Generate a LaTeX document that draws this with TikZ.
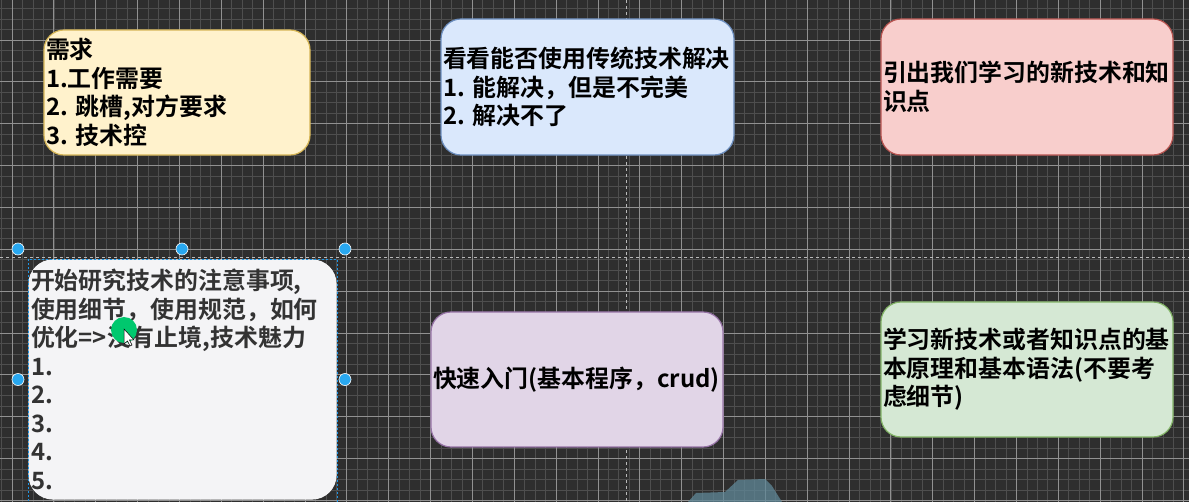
\documentclass[tikz,border=0pt]{standalone}
\usepackage{fontspec}
\setmainfont{Noto Sans CJK SC}[BoldFont={Noto Sans CJK SC Bold}]
\frenchspacing

\definecolor{canvas}{RGB}{46,46,46}
\definecolor{gridminor}{RGB}{78,78,78}
\definecolor{gridmajor}{RGB}{145,145,145}
\definecolor{breakline}{RGB}{185,185,185}
\definecolor{handleblue}{RGB}{41,168,240}
\definecolor{selblue}{RGB}{30,150,230}
\definecolor{clickgreen}{RGB}{0,200,110}
\definecolor{mountain}{RGB}{96,136,152}
\definecolor{yellowfill}{HTML}{FFF2CC}
\definecolor{yellowline}{HTML}{D6B656}
\definecolor{bluefill}{HTML}{DAE8FC}
\definecolor{blueline}{HTML}{6C8EBF}
\definecolor{redfill}{HTML}{F8CECC}
\definecolor{redline}{HTML}{B85450}
\definecolor{purplefill}{HTML}{E1D5E7}
\definecolor{purpleline}{HTML}{9673A6}
\definecolor{greenfill}{HTML}{D5E8D4}
\definecolor{greenline}{HTML}{82B366}
\definecolor{greyfill}{HTML}{F4F4F6}
\definecolor{greytext}{HTML}{333333}

\tikzset{
  card/.style={rectangle, rounded corners=20pt, line width=1.2pt, align=left,
    inner xsep=2pt, inner ysep=0pt,
    font=\bfseries\fontsize{23.9}{28.5}\selectfont},
  minorline/.style={draw=gridminor, line width=0.8pt},
  majorline/.style={draw=gridmajor, line width=0.9pt},
  pagebreak/.style={draw=breakline, line width=1pt, dash pattern=on 3pt off 3pt},
  handle/.style={circle, fill=handleblue, draw=white, line width=0.6pt,
    inner sep=0pt, minimum size=12pt},
}

\begin{document}
\begin{tikzpicture}[x=1pt, y=-1pt]
  \useasboundingbox (0,0) rectangle (1189,502);
  \fill[canvas] (0,0) rectangle (1189,502);
  \clip (0,0) rectangle (1189,502);

  % grid
  \foreach \k in {-1,...,113}
    \draw[minorline] ({12.05+10.4625*\k},0) -- ++(0,502);
  \foreach \k in {0,...,48}
    \draw[minorline] (0,{-1.8+10.4625*\k}) -- ++(1189,0);
  \foreach \k in {0,...,28}
    \draw[majorline] ({12.05+41.85*\k},0) -- ++(0,502);
  \foreach \k in {0,...,12}
    \draw[majorline] (0,{-1.8+41.85*\k}) -- ++(1189,0);
  \draw[pagebreak] (626,0) -- (626,502);
  \draw[pagebreak] (0,258) -- (1189,258);

  % cards
  \node[card, fill=yellowfill, draw=yellowline, minimum width=266pt,
    minimum height=125pt, text width=262pt] (need) at (177,92.5)
    {需求\\1.工作需要\\2. 跳槽,对方要求\\3. 技术控};
  \node[card, fill=bluefill, draw=blueline, minimum width=293pt,
    minimum height=136pt, text width=289pt] (old) at (587.5,87)
    {看看能否使用传统技术解决\\1. 能解决，但是不完美\\2. 解决不了};
  \node[card, fill=redfill, draw=redline, minimum width=292pt,
    minimum height=136pt, text width=288pt] (new) at (1027,87)
    {引出我们学习的新技术和知\\识点};
  \node[card, fill=greyfill, draw=greyfill, text=greytext, rounded corners=24pt,
    minimum width=307pt, minimum height=239pt, text width=303pt] (detail) at (182.5,379.5)
    {开始研究技术的注意事项,\\使用细节，使用规范，如何\\优化=>没有止境,技术魅力\\1.\\2.\\3.\\4.\\5.};
  \node[card, fill=purplefill, draw=purpleline, minimum width=292pt,
    minimum height=135pt, text width=288pt] (quick) at (577,379.5)
    {快速入门(基本程序，crud)};
  \node[card, fill=greenfill, draw=greenline, minimum width=292pt,
    minimum height=135pt, text width=288pt] (basic) at (1027,369.5)
    {学习新技术或者知识点的基\\本原理和基本语法(不要考\\虑细节)};

  % selection of the grey card
  \draw[selblue, line width=0.8pt, dash pattern=on 2pt off 2pt] (28,259) rectangle (337,510);
  \node[handle] (h1) at (18,249) {};
  \node[handle] (h2) at (182,249) {};
  \node[handle] (h3) at (345,249) {};
  \node[handle] (h4) at (18,379.5) {};
  \node[handle] (h5) at (345,379.5) {};

  % pointer
  \fill[clickgreen] (124,330) circle (13);
  \filldraw[fill=white, draw=black, line width=0.5pt] (124,329) -- (124,344)
    -- (127.5,341) -- (130,346) -- (132,345) -- (129.5,340) -- (134,340) -- cycle;

  % overlay at the bottom
  \fill[mountain, opacity=0.75] (688,502) -- (696,493) -- (725,492) -- (738,480)
    -- (765,479) -- (772,486) -- (782,502) -- cycle;
\end{tikzpicture}
\end{document}
